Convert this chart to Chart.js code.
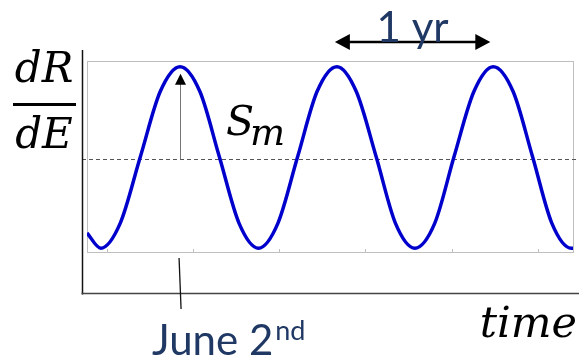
<!DOCTYPE html>
<html>
<head>
<meta charset="utf-8">
<script src="https://cdn.jsdelivr.net/npm/chart.js@4"></script>
<style>
  html, body { margin: 0; padding: 0; background: #fff; }
  canvas { display: block; }
</style>
</head>
<body>
<canvas id="chart" width="579" height="358"></canvas>
<script>
// time in days, rate (0 = bottom of box, 100 = top)
const days = [-46, -14, 31, 78, 124, 170, 216, 261, 307, 352, 397, 443, 488, 534, 579, 625, 670, 715, 761, 806, 852, 897, 943, 988, 1033, 1078, 1082];
const rate = [10, 2, 15, 50, 84, 97, 84, 50, 15, 2, 15, 50, 84, 97, 84, 50, 15, 2, 15, 50, 84, 97, 84, 50, 15, 2, 2];
const tickDays = [0, 200, 400, 600, 800, 1000];
const meanLevel = 48.5;
const junePeak = 170;
const yearFrom = 534;
const yearTo = 897;

const navy = '#203864';
const mathFont = 'italic 42px "DejaVu Serif"';

function arrowHead(ctx, x, y, dx, dy, len, half) {
    // tip at (x,y), pointing along (dx,dy)
    ctx.beginPath();
    ctx.moveTo(x, y);
    ctx.lineTo(x - dx * len - dy * half, y - dy * len + dx * half);
    ctx.lineTo(x - dx * len + dy * half, y - dy * len - dx * half);
    ctx.closePath();
    ctx.fill();
}

const frame = {
    id: 'frame',
    beforeDatasetsDraw(chart) {
        const ctx = chart.ctx;
        const a = chart.chartArea;
        const xs = chart.scales.x;
        const ys = chart.scales.y;
        ctx.save();

        // inner box
        ctx.strokeStyle = '#bfbfbf';
        ctx.lineWidth = 1;
        ctx.strokeRect(a.left + 0.5, a.top + 0.5, a.right - a.left, a.bottom - a.top);

        // small ticks on the bottom edge
        tickDays.forEach((d) => {
            const x = Math.round(xs.getPixelForValue(d)) + 0.5;
            ctx.beginPath();
            ctx.moveTo(x, a.bottom);
            ctx.lineTo(x, a.bottom - 3);
            ctx.stroke();
        });

        // mean level
        const ym = Math.round(ys.getPixelForValue(meanLevel)) + 0.5;
        ctx.strokeStyle = '#555';
        ctx.setLineDash([4, 3]);
        ctx.beginPath();
        ctx.moveTo(a.left - 5, ym);
        ctx.lineTo(a.right + 4, ym);
        ctx.stroke();
        ctx.setLineDash([]);

        ctx.restore();
    },
    afterDraw(chart) {
        const ctx = chart.ctx;
        const a = chart.chartArea;
        const xs = chart.scales.x;
        const ys = chart.scales.y;
        ctx.save();

        // outer axes
        const axisX = a.left - 4.5;
        const axisY = a.bottom + 41.5;
        ctx.strokeStyle = '#111';
        ctx.lineWidth = 1.5;
        ctx.beginPath();
        ctx.moveTo(axisX, 50);
        ctx.lineTo(axisX, axisY + 1);
        ctx.stroke();
        ctx.strokeStyle = '#444';
        ctx.beginPath();
        ctx.moveTo(axisX - 1, axisY);
        ctx.lineTo(579, axisY);
        ctx.stroke();

        // June tick
        const xj = xs.getPixelForValue(junePeak);
        ctx.strokeStyle = '#111';
        ctx.lineWidth = 1.3;
        ctx.beginPath();
        ctx.moveTo(xj - 1, a.bottom + 6);
        ctx.lineTo(xj + 1, a.bottom + 57);
        ctx.stroke();

        // amplitude arrow
        const ym = ys.getPixelForValue(meanLevel);
        const tip = ys.getPixelForValue(96) + 5;
        ctx.strokeStyle = '#777';
        ctx.lineWidth = 1;
        ctx.beginPath();
        ctx.moveTo(Math.round(xj) + 0.5, ym);
        ctx.lineTo(Math.round(xj) + 0.5, tip + 8);
        ctx.stroke();
        ctx.fillStyle = '#000';
        arrowHead(ctx, Math.round(xj) + 0.5, tip, 0, -1, 11, 5.5);

        // 1 yr arrow
        const x1 = xs.getPixelForValue(yearFrom) - 2;
        const x2 = xs.getPixelForValue(yearTo) - 3;
        const ya = 42;
        ctx.strokeStyle = '#000';
        ctx.lineWidth = 2.5;
        ctx.beginPath();
        ctx.moveTo(x1 + 10, ya);
        ctx.lineTo(x2 - 10, ya);
        ctx.stroke();
        arrowHead(ctx, x1, ya, -1, 0, 15, 8);
        arrowHead(ctx, x2, ya, 1, 0, 15, 8);

        // texts
        ctx.fillStyle = navy;
        ctx.textBaseline = 'alphabetic';
        ctx.font = '42px Lato';
        ctx.textAlign = 'center';
        ctx.fillText('1 yr', (x1 + x2) / 2, 42);

        ctx.textAlign = 'left';
        ctx.fillText('June 2', 152, 355);
        const wj = ctx.measureText('June 2').width;
        ctx.font = '27px Lato';
        ctx.fillText('nd', 152 + wj + 2, 340);

        ctx.fillStyle = '#000';
        ctx.font = mathFont;
        ctx.textAlign = 'center';
        ctx.fillText('dR', 44, 82);
        ctx.fillText('dE', 44, 148);
        ctx.fillRect(13, 103, 63, 3);

        ctx.textAlign = 'left';
        ctx.font = 'italic 41px "DejaVu Serif"';
        ctx.fillText('S', 226, 135);
        ctx.font = 'italic 37px "DejaVu Serif"';
        ctx.fillText('m', 250, 145);

        ctx.font = 'italic 43px "DejaVu Serif"';
        ctx.textAlign = 'right';
        ctx.fillText('time', 577, 337);

        ctx.restore();
    }
};

const chart = new Chart(document.getElementById('chart'), {
    type: 'line',
    data: {
        datasets: [{
            data: days.map((d, i) => ({ x: d, y: rate[i] })),
            borderColor: '#0000cc',
            borderWidth: 3.5,
            pointRadius: 0,
            cubicInterpolationMode: 'monotone',
            fill: false,
        }]
    },
    options: {
        responsive: false,
        animation: false,
        devicePixelRatio: 1,
        layout: {
            padding: { left: 87, right: 6, top: 61, bottom: 106 }
        },
        plugins: {
            legend: { display: false },
            tooltip: { enabled: false },
        },
        scales: {
            x: { type: 'linear', min: -46, max: 1082, display: false },
            y: { min: 0, max: 100, display: false },
        }
    },
    plugins: [frame]
});
</script>
</body>
</html>
